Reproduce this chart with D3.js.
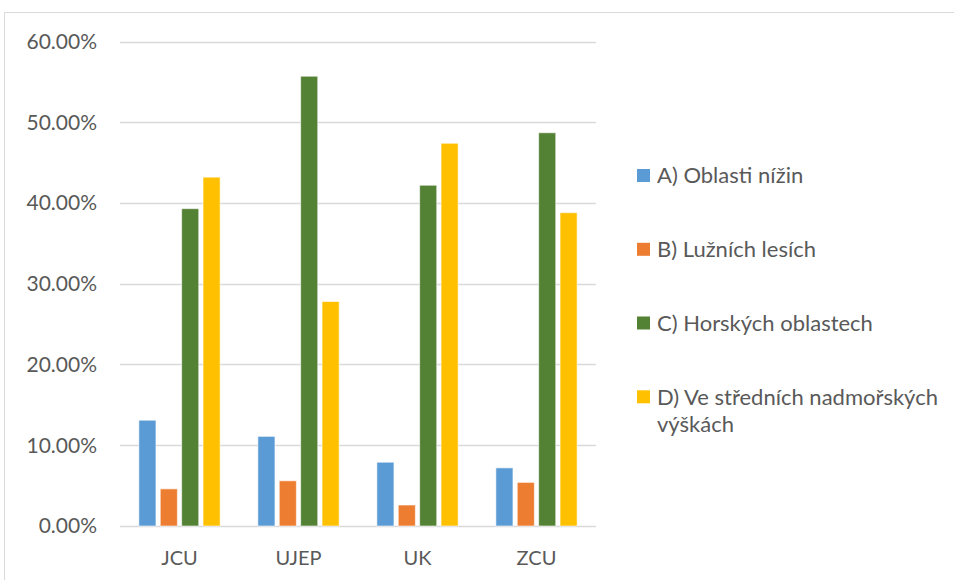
<!DOCTYPE html>
<html>
<head>
<meta charset="utf-8">
<script src="https://cdn.jsdelivr.net/npm/d3@7"></script>
<style>
  body { margin: 0; background: #fff; }
  text { font-family: Lato, "Open Sans", sans-serif; fill: #595959; }
</style>
</head>
<body>
<svg id="chart" width="954" height="580"></svg>
<script>
'use strict';

// categories (universities)
const categories = ['JCU', 'UJEP', 'UK', 'ZCU'];

// series names and values (fraction of answers)
const seriesNames = [
  'A) Oblasti nížin',
  'B) Lužních lesích',
  'C) Horských oblastech',
  'D) Ve středních nadmořských výškách'
];
const oblastiNizin = [0.131, 0.111, 0.079, 0.072];
const luzniLesy = [0.046, 0.056, 0.026, 0.054];
const horskeOblasti = [0.393, 0.557, 0.422, 0.487];
const stredniVysky = [0.432, 0.278, 0.474, 0.388];

const yTicks = [0, 0.1, 0.2, 0.3, 0.4, 0.5, 0.6];
const colours = ['#5B9BD5', '#ED7D31', '#548235', '#FFC000'];

const seriesValues = [oblastiNizin, luzniLesy, horskeOblasti, stredniVysky];

const svg = d3.select('#chart');

// outer chart frame
svg.append('rect')
  .attr('x', 4.5).attr('y', 12.5)
  .attr('width', 1000).attr('height', 700)
  .attr('fill', 'none')
  .attr('stroke', '#d9d9d9');

const plot = { left: 120, right: 596, top: 41.5, bottom: 526 };

// scales
const x0 = d3.scaleBand()
  .domain(categories)
  .range([plot.left, plot.right]);

const groupW = 81.3;
const x1 = d3.scaleBand()
  .domain(d3.range(seriesNames.length))
  .range([(x0.bandwidth() - groupW) / 2, (x0.bandwidth() + groupW) / 2])
  .paddingInner(0.2);

const y = d3.scaleLinear()
  .domain([0, 0.6])
  .range([plot.bottom, plot.top]);

// gridlines
svg.append('g')
  .selectAll('line')
  .data(yTicks)
  .join('line')
  .attr('x1', plot.left)
  .attr('x2', plot.right)
  .attr('y1', d => Math.round(y(d)) + 0.5)
  .attr('y2', d => Math.round(y(d)) + 0.5)
  .attr('stroke', '#d9d9d9')
  .attr('stroke-width', 1.5);

// y axis labels
const fmt = d3.format('.2%');
svg.append('g')
  .selectAll('text')
  .data(yTicks)
  .join('text')
  .attr('x', 97)
  .attr('y', d => y(d))
  .attr('dy', '0.35em')
  .attr('text-anchor', 'end')
  .style('font-size', '21px')
  .text(d => fmt(d));

// bars
const rows = categories.map((c, i) => ({
  cat: c,
  vals: seriesValues.map((s, j) => ({ s: j, v: s[i] }))
}));

const groups = svg.append('g')
  .selectAll('g')
  .data(rows)
  .join('g')
  .attr('transform', d => `translate(${x0(d.cat)},0)`);

groups.selectAll('rect')
  .data(d => d.vals)
  .join('rect')
  .attr('x', d => x1(d.s))
  .attr('width', x1.bandwidth())
  .attr('y', d => y(d.v))
  .attr('height', d => y(0) - y(d.v))
  .attr('fill', d => colours[d.s])
  .attr('stroke', '#ffffff')
  .attr('stroke-opacity', 0.6)
  .attr('stroke-width', 1);

// x axis labels
svg.append('g')
  .selectAll('text')
  .data(categories)
  .join('text')
  .attr('x', d => x0(d) + x0.bandwidth() / 2)
  .attr('y', 558)
  .attr('dy', '0.35em')
  .attr('text-anchor', 'middle')
  .style('font-size', '20px')
  .text(d => d);

// legend
const legendY = [175.5, 249.3, 323, 396.8];
const legendLines = [
  ['A) Oblasti nížin'],
  ['B) Lužních lesích'],
  ['C) Horských oblastech'],
  ['D) Ve středních nadmořských', 'výškách']
];

const legend = svg.append('g')
  .selectAll('g')
  .data(seriesNames)
  .join('g')
  .attr('transform', (d, i) => `translate(0,${legendY[i]})`);

legend.append('rect')
  .attr('x', 637)
  .attr('y', -6.5)
  .attr('width', 13)
  .attr('height', 13)
  .attr('fill', (d, i) => colours[i]);

legend.append('text')
  .attr('x', 657)
  .attr('y', 0)
  .style('font-size', '22px')
  .selectAll('tspan')
  .data((d, i) => legendLines[i])
  .join('tspan')
  .attr('x', 657)
  .attr('dy', (d, k) => k === 0 ? '0.35em' : '28px')
  .text(d => d);
</script>
</body>
</html>
